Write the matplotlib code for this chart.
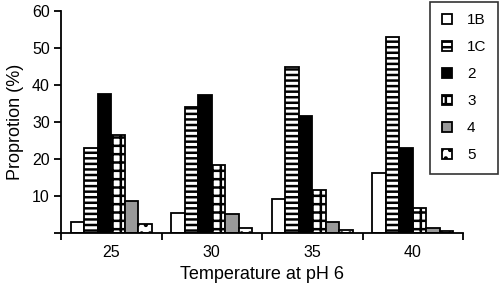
import matplotlib
matplotlib.use("Agg")
import matplotlib.pyplot as plt
import numpy as np

plt.rcParams['font.family'] = ['Liberation Sans', 'DejaVu Sans']
plt.rcParams['hatch.linewidth'] = 1.8

temps = ['25', '30', '35', '40']
series = ['1B', '1C', '2', '3', '4', '5']
v_1B = [3.0, 5.3, 9.2, 16.2]
v_1C = [23.0, 34.0, 45.0, 53.0]
v_2 = [37.5, 37.2, 31.5, 23.0]
v_3 = [26.5, 18.3, 11.5, 6.8]
v_4 = [8.5, 5.0, 2.9, 1.4]
v_5 = [2.5, 1.4, 0.7, 0.4]
values = [v_1B, v_1C, v_2, v_3, v_4, v_5]

facecols = ['white', 'white', 'black', 'white', '#999999', 'white']
hatches = [None, '---', None, '++', None, '..']

fig = plt.figure(figsize=(5.0, 2.84), dpi=100)
ax = fig.add_axes([0.122, 0.180, 0.804, 0.781])

x = np.arange(len(temps))
w = 0.135
for i, (lab, vals) in enumerate(zip(series, values)):
    ax.bar(x + (i - 2.5) * w, vals, w, color=facecols[i], edgecolor='black',
           hatch=hatches[i], linewidth=1.3, label=lab)

ax.set_xlim(-0.5, 3.5)
ax.set_ylim(0, 60)
ax.set_xticks(x)
ax.set_xticklabels(temps, fontsize=11.5)
ax.set_xticks(np.arange(-0.5, 3.6, 1.0), minor=True)
ax.tick_params(axis='x', which='major', length=0, pad=9)
ax.tick_params(axis='x', which='minor', length=5, width=1.3, direction='out')
ax.set_yticks([0, 10, 20, 30, 40, 50, 60])
ax.set_yticklabels(['', '10', '20', '30', '40', '50', '60'], fontsize=11.5)
ax.tick_params(axis='y', length=5, width=1.3, direction='out', pad=3)
for s in ['left', 'bottom']:
    ax.spines[s].set_linewidth(1.3)
ax.spines['top'].set_visible(False)
ax.spines['right'].set_visible(False)
ax.set_xlabel('Temperature at pH 6', fontsize=13, labelpad=4)
ax.set_ylabel('Proprotion (%)', fontsize=13, labelpad=6)

leg = fig.legend(loc='upper right', bbox_to_anchor=(0.996, 0.993), fontsize=11,
                 frameon=True, fancybox=False, edgecolor='black',
                 handlelength=0.65, handleheight=0.65, labelspacing=0.85,
                 borderpad=0.75, handletextpad=1.0, borderaxespad=0)
leg.get_frame().set_linewidth(1.2)

fig.savefig('out.png', dpi=100)
